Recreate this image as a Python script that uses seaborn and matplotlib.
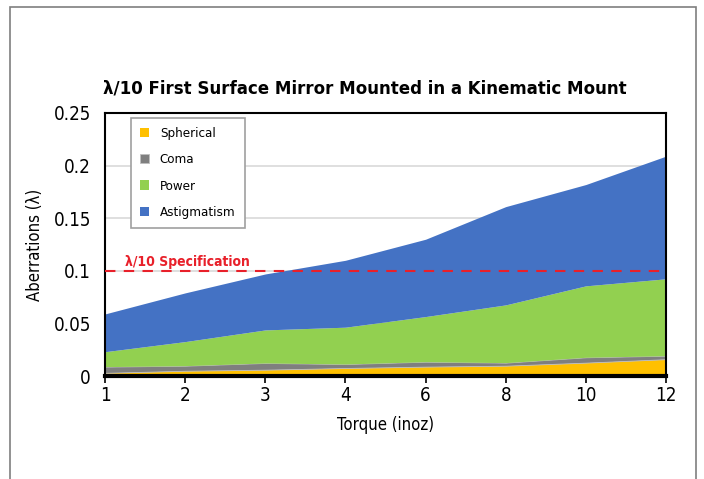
import numpy as np
import matplotlib.pyplot as plt
import matplotlib.patches as mpatches
import seaborn as sns

# torque values (categorical, equally spaced on the chart)
torque = ["1", "2", "3", "4", "6", "8", "10", "12"]

# aberration contributions (waves), stacked bottom to top
spherical = [0.0030, 0.0050, 0.0060, 0.0076, 0.0089, 0.0098, 0.0127, 0.0160]
coma = [0.0059, 0.0048, 0.0064, 0.0038, 0.0047, 0.0029, 0.0051, 0.0033]
power = [0.0142, 0.0229, 0.0314, 0.0350, 0.0429, 0.0549, 0.0679, 0.0731]
astigmatism = [0.0359, 0.0463, 0.0532, 0.0636, 0.0735, 0.0934, 0.0963, 0.1166]

labels = ["Spherical", "Coma", "Power", "Astigmatism"]
colors = ["#FFC000", "#7F7F7F", "#92D050", "#4472C4"]
spec = 0.1

sns.set_theme(style="white")
plt.rcParams['font.family'] = ['DejaVu Sans']
plt.rcParams['font.stretch'] = 'condensed'
plt.rcParams['text.color'] = 'black'
plt.rcParams['axes.labelcolor'] = 'black'
plt.rcParams['xtick.color'] = 'black'
plt.rcParams['ytick.color'] = 'black'

fig = plt.figure(figsize=(7.04, 4.79), dpi=100)
ax = fig.add_axes([105 / 704, 1 - 376 / 479, 561 / 704, 263 / 479])

x = np.arange(len(torque))
polys = ax.stackplot(x, spherical, coma, power, astigmatism,
                     colors=colors, labels=labels, zorder=2)
for p in polys:
    p.set_linewidth(0)
polys[1].set_edgecolor("#BFBFBF")
polys[1].set_linewidth(0.6)

ax.axhline(spec, color="#E8202A", ls=(0, (5, 4)), lw=1.5, zorder=3)
ax.text(0.25, spec + 0.0015, "λ/10 Specification", color="#E8202A",
        fontsize=10, fontweight="bold", va="bottom", ha="left", zorder=6)

ax.set_xlim(0, len(torque) - 1)
ax.set_ylim(0, 0.25)
ax.set_xticks(x)
ax.set_xticklabels(torque)
ax.set_yticks([0, 0.05, 0.1, 0.15, 0.2, 0.25])
ax.set_yticklabels(["0", "0.05", "0.1", "0.15", "0.2", "0.25"])
ax.tick_params(axis="x", bottom=True, length=5, width=1.2, color="black",
               labelsize=13.5, pad=2)
ax.tick_params(axis="y", left=False, labelsize=13.5, pad=4)
ax.yaxis.grid(True, color="#D9D9D9", lw=1.2, zorder=0)
ax.set_axisbelow(True)

for side in ["top", "right", "left"]:
    ax.spines[side].set_color("black")
    ax.spines[side].set_linewidth(1.5)
ax.spines["bottom"].set_color("black")
ax.spines["bottom"].set_linewidth(3)
ax.spines["bottom"].set_zorder(4)

ax.set_xlabel("Torque (inoz)", fontsize=12, labelpad=8)
ax.set_ylabel("Aberrations (λ)", fontsize=12, labelpad=7)
ax.set_title("λ/10 First Surface Mirror Mounted in a Kinematic Mount",
             fontsize=13.3, fontweight="bold", pad=14, x=0.463)

leg = ax.legend(loc="upper left", bbox_to_anchor=(0.046, 0.981), fontsize=9.5,
                frameon=True, fancybox=False, edgecolor="#A0A0A0",
                handlelength=0.7, handleheight=0.7, labelspacing=1.0,
                borderpad=0.7, handletextpad=0.8, borderaxespad=0)
leg.get_frame().set_linewidth(1.2)
leg.get_frame().set_alpha(1)

# outer chart border
fig.patches.append(mpatches.Rectangle((10 / 704, -0.1), 686 / 704, (479 - 7) / 479 + 0.1,
                                      transform=fig.transFigure, fill=False,
                                      edgecolor="#7F7F7F", lw=1.2))

fig.savefig("out.png", dpi=100)
